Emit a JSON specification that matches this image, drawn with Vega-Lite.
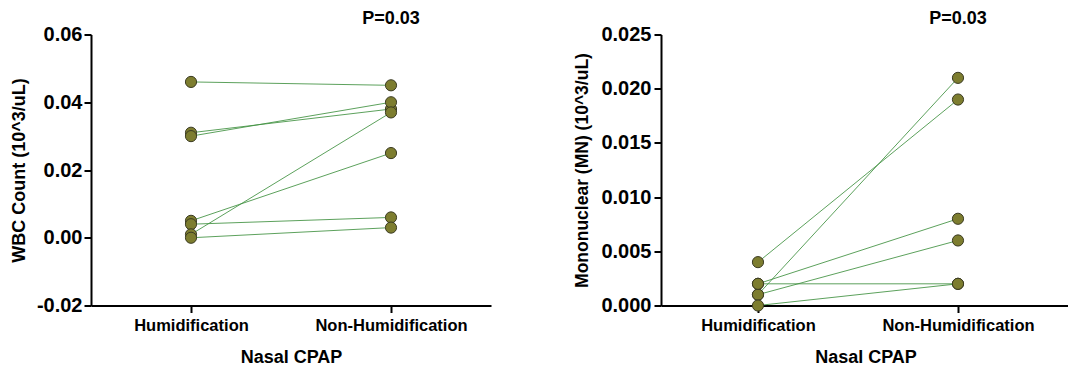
{
  "$schema": "https://vega.github.io/schema/vega-lite/v6.json",
  "background": "white",
  "padding": {"left": 10, "top": 9.5, "right": 0, "bottom": 0},
  "spacing": 82,
  "config": {
    "view": {"stroke": null},
    "font": "Liberation Sans",
    "title": {"fontSize": 18, "fontWeight": "bold", "color": "black", "font": "Liberation Sans", "anchor": "middle", "frame": "group", "baseline": "alphabetic", "offset": -3.5},
    "axis": {
      "domainColor": "black", "domainWidth": 2, "tickColor": "black", "tickWidth": 2, "tickSize": 7,
      "labelColor": "black", "titleColor": "black", "labelFontWeight": "bold", "titleFontWeight": "bold",
      "grid": false, "labelFont": "Liberation Sans", "titleFont": "Liberation Sans"
    }
  },
  "datasets": {
    "wbc": [
      {"subject": 1, "group": "Humidification", "value": 0.046},
      {"subject": 1, "group": "Non-Humidification", "value": 0.045},
      {"subject": 2, "group": "Humidification", "value": 0.031},
      {"subject": 2, "group": "Non-Humidification", "value": 0.038},
      {"subject": 3, "group": "Humidification", "value": 0.030},
      {"subject": 3, "group": "Non-Humidification", "value": 0.040},
      {"subject": 4, "group": "Humidification", "value": 0.005},
      {"subject": 4, "group": "Non-Humidification", "value": 0.025},
      {"subject": 5, "group": "Humidification", "value": 0.004},
      {"subject": 5, "group": "Non-Humidification", "value": 0.006},
      {"subject": 6, "group": "Humidification", "value": 0.001},
      {"subject": 6, "group": "Non-Humidification", "value": 0.037},
      {"subject": 7, "group": "Humidification", "value": 0.000},
      {"subject": 7, "group": "Non-Humidification", "value": 0.003}
    ],
    "mn": [
      {"subject": 1, "group": "Humidification", "value": 0.004},
      {"subject": 1, "group": "Non-Humidification", "value": 0.019},
      {"subject": 2, "group": "Humidification", "value": 0.001},
      {"subject": 2, "group": "Non-Humidification", "value": 0.021},
      {"subject": 3, "group": "Humidification", "value": 0.002},
      {"subject": 3, "group": "Non-Humidification", "value": 0.008},
      {"subject": 4, "group": "Humidification", "value": 0.001},
      {"subject": 4, "group": "Non-Humidification", "value": 0.006},
      {"subject": 5, "group": "Humidification", "value": 0.002},
      {"subject": 5, "group": "Non-Humidification", "value": 0.002},
      {"subject": 6, "group": "Humidification", "value": 0.000},
      {"subject": 6, "group": "Non-Humidification", "value": 0.002}
    ]
  },
  "hconcat": [
    {
      "width": 400, "height": 271,
      "title": {"text": "P=0.03", "dx": 100},
      "data": {"name": "wbc"},
      "encoding": {
        "x": {"field": "group", "type": "nominal", "sort": ["Humidification", "Non-Humidification"],
          "scale": {"type": "point", "domain": ["Humidification", "Non-Humidification"], "padding": 0.5},
          "axis": {"title": "Nasal CPAP", "labelAngle": 0, "labelFontSize": 16.5, "titleFontSize": 18, "labelPadding": 5, "titlePadding": 14}},
        "y": {"field": "value", "type": "quantitative",
          "scale": {"domain": [-0.02, 0.06], "nice": false, "zero": false},
          "axis": {"title": "WBC Count (10^3/uL)", "values": [-0.02, 0, 0.02, 0.04, 0.06], "format": ".2f",
            "labelExpr": "replace(datum.label, '\u2212', '-')", "labelFontSize": 20, "titleFontSize": 18, "labelPadding": 2, "titlePadding": 8}}
      },
      "layer": [
        {"mark": {"type": "line", "color": "#3f913f", "strokeWidth": 1, "opacity": 0.85},
          "encoding": {"detail": {"field": "subject", "type": "nominal"}}},
        {"mark": {"type": "circle", "size": 125, "fill": "#7d7d2f", "stroke": "#3b3b22", "strokeWidth": 1, "opacity": 1}}
      ]
    },
    {
      "width": 409, "height": 271,
      "title": {"text": "P=0.03", "dx": 92.5},
      "data": {"name": "mn"},
      "encoding": {
        "x": {"field": "group", "type": "nominal", "sort": ["Humidification", "Non-Humidification"],
          "scale": {"type": "point", "domain": ["Humidification", "Non-Humidification"], "padding": 0.5225, "align": 0.464},
          "axis": {"title": "Nasal CPAP", "labelAngle": 0, "labelFontSize": 16.5, "titleFontSize": 18, "labelPadding": 5, "titlePadding": 14}},
        "y": {"field": "value", "type": "quantitative",
          "scale": {"domain": [0, 0.025], "nice": false, "zero": false},
          "axis": {"title": "Mononuclear (MN) (10^3/uL)", "values": [0, 0.005, 0.01, 0.015, 0.02, 0.025], "format": ".3f",
            "labelFontSize": 20, "titleFontSize": 17.5, "labelPadding": 3, "titlePadding": 9}}
      },
      "layer": [
        {"mark": {"type": "line", "color": "#3f913f", "strokeWidth": 1, "opacity": 0.85},
          "encoding": {"detail": {"field": "subject", "type": "nominal"}}},
        {"mark": {"type": "circle", "size": 125, "fill": "#7d7d2f", "stroke": "#3b3b22", "strokeWidth": 1, "opacity": 1}}
      ]
    }
  ]
}
